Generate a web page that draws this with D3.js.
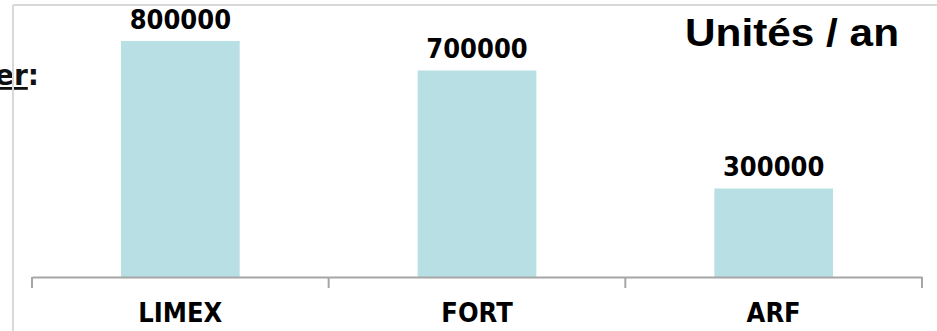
<!DOCTYPE html>
<html>
<head>
<meta charset="utf-8">
<script src="https://cdn.jsdelivr.net/npm/d3@7"></script>
<style>
html,body{margin:0;padding:0;background:#fff;overflow:hidden;}
svg{display:block;}
</style>
</head>
<body>
<svg id="chart" width="937" height="331"></svg>
<script>
const categories = ["LIMEX", "FORT", "ARF"];
const values = [800000, 700000, 300000];
const title = "Unités / an";
const sideLabel = "er";

const W = 937, H = 331;
const svg = d3.select("#chart");

const x = d3.scaleBand().domain(categories).range([32, 922]).padding(0);
const y = d3.scaleLinear().domain([0, 900000]).range([277, 11.5]);
const barW = x.bandwidth() * 0.4;

// side label (clipped at left edge, as in the reference)
const sl = svg.append("text")
  .attr("x", -5).attr("y", 85)
  .attr("font-family", "DejaVu Sans").attr("font-weight", "bold")
  .attr("font-size", 28).attr("fill", "#111");
sl.append("tspan").attr("text-decoration", "underline").text(sideLabel);
sl.append("tspan").text(":");

// frame lines
svg.append("line").attr("x1", 13).attr("x2", W).attr("y1", 5).attr("y2", 5)
  .attr("stroke", "#d9d9d9").attr("stroke-width", 2);
svg.append("line").attr("x1", 13).attr("x2", 13).attr("y1", 5).attr("y2", H)
  .attr("stroke", "#d9d9d9").attr("stroke-width", 2);

// bars
svg.selectAll("rect.bar").data(categories).join("rect")
  .attr("class", "bar")
  .attr("x", (d) => x(d) + (x.bandwidth() - barW) / 2)
  .attr("width", barW)
  .attr("y", (d, i) => y(values[i]))
  .attr("height", (d, i) => y(0) - y(values[i]))
  .attr("fill", "#b8dfe3");

// axis
const axis = d3.axisBottom(x).tickSize(0).tickFormat("");
const g = svg.append("g").attr("transform", `translate(0,${y(0)})`).call(axis);
g.select(".domain").attr("stroke", "#a6a6a6").attr("stroke-width", 2);
const edges = x.domain().map(d => x(d)).concat([x.range()[1]]);
svg.append("g").selectAll("line").data(edges).join("line")
  .attr("x1", d => d).attr("x2", d => d)
  .attr("y1", y(0)).attr("y2", y(0) + 11)
  .attr("stroke", "#a6a6a6").attr("stroke-width", 2);

// category labels
svg.selectAll("g.cat").data(categories).join("g")
  .attr("class", "cat")
  .attr("transform", d => `translate(${x(d) + x.bandwidth() / 2},322) scale(0.9,1)`)
  .append("text")
  .attr("text-anchor", "middle")
  .attr("font-family", "DejaVu Sans").attr("font-weight", "bold")
  .attr("font-size", 27).attr("fill", "#000")
  .text(d => d);

// value labels
svg.selectAll("g.val").data(categories).join("g")
  .attr("class", "val")
  .attr("transform", (d, i) => `translate(${x(d) + x.bandwidth() / 2},${y(values[i]) - 12.5}) scale(0.9,1)`)
  .append("text")
  .attr("text-anchor", "middle")
  .attr("font-family", "DejaVu Sans").attr("font-weight", "bold")
  .attr("font-size", 27).attr("fill", "#000")
  .text((d, i) => String(values[i]));

// title
svg.append("text")
  .attr("x", 792).attr("y", 46)
  .attr("text-anchor", "middle")
  .attr("font-family", "Liberation Sans, Arial").attr("font-weight", "bold")
  .attr("font-size", 38).attr("fill", "#000")
  .attr("textLength", 214).attr("lengthAdjust", "spacingAndGlyphs")
  .text(title);
</script>
</body>
</html>
